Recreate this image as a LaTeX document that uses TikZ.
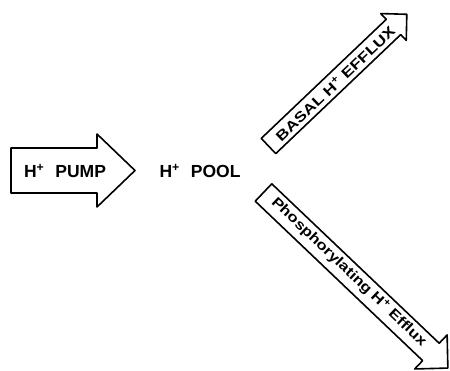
\documentclass[tikz,border=0pt]{standalone}
\usepackage{fontspec}
\setmainfont{Liberation Sans}
\usepackage{graphicx}
\tikzset{
  arr/.style={draw=black, line width=1.6pt, line join=round, fill=white},
  lbl/.style={font=\fontsize{17.5}{19}\selectfont\bfseries, inner sep=0pt},
  rlbl/.style={font=\fontsize{14}{16}\selectfont\bfseries, inner sep=0pt},
}
% #1 x, #2 y, #3 angle, #4 length, #5 shaft width, #6 head length, #7 head width
\newcommand\FatArrow[7]{%
  \begin{scope}[shift={(#1,#2)}, rotate=#3]
    \draw[arr] (0,-#5/2) -- (#4-#6,-#5/2) -- (#4-#6,-#7/2) -- (#4,0)
      -- (#4-#6,#7/2) -- (#4-#6,#5/2) -- (0,#5/2) -- cycle;
  \end{scope}}
\begin{document}
\begin{tikzpicture}[x=1pt,y=-1pt]
  \useasboundingbox (0,0) rectangle (450,370);
  \clip (0,0) rectangle (450,370);
  \FatArrow{11}{170.5}{0}{124}{45}{38}{73}
  \FatArrow{268.5}{146}{43.6}{191}{21}{18.4}{37}
  \FatArrow{263.5}{192.5}{-43.6}{254.6}{24}{23.4}{47}
  \node[lbl] (pump) at (65,171) {H\textsuperscript{+}\hspace{11pt}PUMP};
  \node[lbl] (pool) at (200,171) {H\textsuperscript{+}\hspace{11pt}POOL};
  \node[rlbl, rotate=43.6] (basal) at (335,83.5) {\scalebox{1.25}[1]{BASAL H\textsuperscript{+} EFFLUX}};
  \node[rlbl, rotate=-43.6] (phos) at (349,272) {\scalebox{1.2}[1]{Phosphorylating H\textsuperscript{+} Efflux}};
\end{tikzpicture}
\end{document}
